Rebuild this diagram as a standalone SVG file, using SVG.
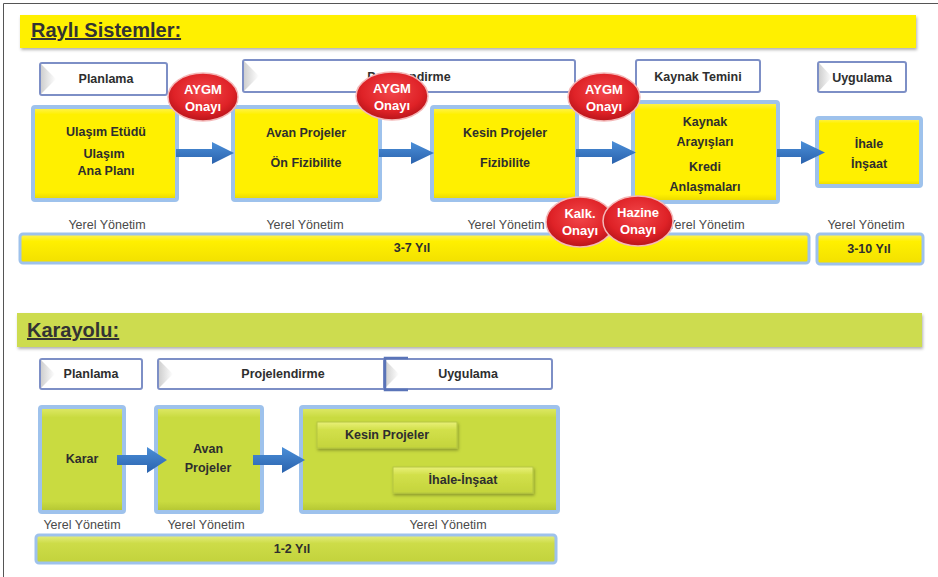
<svg xmlns="http://www.w3.org/2000/svg" width="938" height="577" viewBox="0 0 938 577">
  <defs>
    <style>
      .t { font-family: "Liberation Sans", Arial, sans-serif; font-weight: bold; font-size: 12.5px; fill: #2e2e2e; text-anchor: middle; }
      .title { font-family: "Liberation Sans", Arial, sans-serif; font-weight: bold; font-size: 20px; fill: #333; text-decoration: underline; }
      .yy { font-family: "Liberation Sans", Arial, sans-serif; font-size: 12.5px; fill: #4a4a4a; text-anchor: middle; }
      .w { font-family: "Liberation Sans", Arial, sans-serif; font-weight: bold; font-size: 13px; fill: #fff; text-anchor: middle; }
      .phase { fill: #ffffff; stroke: #7d8fc6; stroke-width: 2; }
      .notch { fill: url(#notchFill); }
      .ybox { fill: url(#yFill); stroke: #9ec2ec; stroke-width: 4; }
      .gbox { fill: url(#gFill); stroke: #9ec2ec; stroke-width: 4; }
      .ginner { fill: url(#gInner); stroke: #b5c640; stroke-width: 1; filter: url(#sh); }
      .ybar { fill: url(#yBar); stroke: #9ec2ec; stroke-width: 3; }
      .gbar { fill: url(#gBar); stroke: #9ec2ec; stroke-width: 3; }
      .seal { fill: url(#redFill); stroke: #f4b8b8; stroke-width: 1.5; }
      .arrow { fill: url(#blueFill); }
    </style>
    <linearGradient id="notchFill" x1="0" y1="0" x2="1" y2="0">
      <stop offset="0" stop-color="#cfcfcf"/>
      <stop offset="1" stop-color="#ffffff"/>
    </linearGradient>
    <linearGradient id="yFill" x1="0" y1="0" x2="0" y2="1">
      <stop offset="0" stop-color="#fff45a"/>
      <stop offset="0.08" stop-color="#fff000"/>
      <stop offset="0.92" stop-color="#fff000"/>
      <stop offset="1" stop-color="#e6d400"/>
    </linearGradient>
    <linearGradient id="yBar" x1="0" y1="0" x2="0" y2="1">
      <stop offset="0" stop-color="#fff35c"/>
      <stop offset="0.25" stop-color="#fff000"/>
      <stop offset="1" stop-color="#f2e000"/>
    </linearGradient>
    <linearGradient id="gFill" x1="0" y1="0" x2="0" y2="1">
      <stop offset="0" stop-color="#e0ea6a"/>
      <stop offset="0.1" stop-color="#c9db40"/>
      <stop offset="0.9" stop-color="#c9db40"/>
      <stop offset="1" stop-color="#b2c432"/>
    </linearGradient>
    <linearGradient id="gInner" x1="0" y1="0" x2="0" y2="1">
      <stop offset="0" stop-color="#e9f07a"/>
      <stop offset="0.3" stop-color="#d2e04a"/>
      <stop offset="1" stop-color="#c4d43c"/>
    </linearGradient>
    <linearGradient id="gBar" x1="0" y1="0" x2="0" y2="1">
      <stop offset="0" stop-color="#e6ee80"/>
      <stop offset="0.3" stop-color="#cddc48"/>
      <stop offset="1" stop-color="#c2d23c"/>
    </linearGradient>
    <radialGradient id="redFill" cx="0.5" cy="0.4" r="0.6">
      <stop offset="0" stop-color="#f2474a"/>
      <stop offset="0.7" stop-color="#df2227"/>
      <stop offset="1" stop-color="#b8141a"/>
    </radialGradient>
    <linearGradient id="blueFill" x1="0" y1="0" x2="0" y2="1">
      <stop offset="0" stop-color="#4b8fd8"/>
      <stop offset="1" stop-color="#2a62ad"/>
    </linearGradient>
    <filter id="sh" x="-10%" y="-20%" width="130%" height="160%">
      <feDropShadow dx="1" dy="2" stdDeviation="1.5" flood-color="#000" flood-opacity="0.3"/>
    </filter>
  </defs>

  <rect width="938" height="577" fill="#ffffff"/>
  <!-- frame -->
  <path d="M3.5 577 V3.5 H938" fill="none" stroke="#555" stroke-width="1"/>

  <!-- ===== Rail systems section ===== -->
  <g id="rail-banner">
    <rect x="20" y="15" width="896" height="33" fill="#fff000" filter="url(#sh)"/>
    <text class="title" x="31" y="37">Raylı Sistemler:</text>
  </g>

  <g id="rail-phase-planlama">
    <rect class="phase" x="40" y="63" width="127" height="32" rx="2"/>
    <polygon class="notch" points="41,64 56,79 41,94"/>
    <text class="t" x="106" y="83">Planlama</text>
  </g>
  <g id="rail-phase-projelendirme">
    <rect class="phase" x="243" y="60" width="332" height="32" rx="2"/>
    <polygon class="notch" points="244,61 259,76 244,91"/>
    <text class="t" x="409" y="81">Projelendirme</text>
  </g>
  <g id="rail-phase-kaynak">
    <rect class="phase" x="636" y="60" width="124" height="32" rx="2"/>
    <text class="t" x="698" y="81">Kaynak Temini</text>
  </g>
  <g id="rail-phase-uygulama">
    <rect class="phase" x="818" y="62" width="88" height="30" rx="2"/>
    <polygon class="notch" points="819,63 832,77 819,91"/>
    <text class="t" x="862" y="82">Uygulama</text>
  </g>

  <g id="rail-etut">
    <rect class="ybox" x="33" y="107" width="144" height="93" rx="2"/>
    <text class="t" x="106" y="136">Ulaşım  Etüdü</text>
    <text class="t" x="104" y="158">Ulaşım</text>
    <text class="t" x="106" y="175">Ana Planı</text>
  </g>
  <g id="rail-avan">
    <rect class="ybox" x="233" y="107" width="147" height="93" rx="2"/>
    <text class="t" x="306" y="137">Avan Projeler</text>
    <text class="t" x="306" y="167">Ön Fizibilite</text>
  </g>
  <g id="rail-kesin">
    <rect class="ybox" x="432" y="107" width="145" height="93" rx="2"/>
    <text class="t" x="505" y="137">Kesin Projeler</text>
    <text class="t" x="505" y="167">Fizibilite</text>
  </g>
  <g id="rail-kaynak">
    <rect class="ybox" x="633" y="102" width="145" height="100" rx="2"/>
    <text class="t" x="705" y="126">Kaynak</text>
    <text class="t" x="705" y="146">Arayışları</text>
    <text class="t" x="705" y="171">Kredi</text>
    <text class="t" x="705" y="191">Anlaşmaları</text>
  </g>
  <g id="rail-ihale">
    <rect class="ybox" x="817" y="118" width="104" height="68" rx="2"/>
    <text class="t" x="869" y="148">İhale</text>
    <text class="t" x="869" y="168">İnşaat</text>
  </g>

  <g id="rail-connectors">
    <polygon class="arrow" points="176,149 212,149 212,142 234,153 212,164 212,157 176,157"/>
    <polygon class="arrow" points="379,149 411,149 411,142 434,153 411,164 411,157 379,157"/>
    <polygon class="arrow" points="576,149 612,149 612,141 636,152.5 612,164 612,157 576,157"/>
    <polygon class="arrow" points="777,149 801,149 801,141 825,152.5 801,164 801,157 777,157"/>
  </g>

  <g id="rail-owners">
    <text class="yy" x="107" y="229">Yerel Yönetim</text>
    <text class="yy" x="305" y="229">Yerel Yönetim</text>
    <text class="yy" x="506" y="229">Yerel Yönetim</text>
    <text class="yy" x="706" y="229">Yerel Yönetim</text>
    <text class="yy" x="866" y="229">Yerel Yönetim</text>
  </g>

  <g id="rail-duration-3-7">
    <rect class="ybar" x="20" y="234" width="789" height="29" rx="3"/>
    <text class="t" x="412" y="252">3-7 Yıl</text>
  </g>
  <g id="rail-duration-3-10">
    <rect class="ybar" x="817" y="234" width="106" height="30" rx="3"/>
    <text class="t" x="869" y="253">3-10 Yıl</text>
  </g>

  <g id="approval-aygm-1">
    <ellipse class="seal" cx="203" cy="97" rx="35" ry="24"/>
    <text class="w" x="203" y="94">AYGM</text>
    <text class="w" x="203" y="111">Onayı</text>
  </g>
  <g id="approval-aygm-2">
    <ellipse class="seal" cx="392" cy="96" rx="36" ry="24"/>
    <text class="w" x="392" y="93">AYGM</text>
    <text class="w" x="392" y="110">Onayı</text>
  </g>
  <g id="approval-aygm-3">
    <ellipse class="seal" cx="604" cy="97" rx="36" ry="24"/>
    <text class="w" x="604" y="94">AYGM</text>
    <text class="w" x="604" y="111">Onayı</text>
  </g>
  <g id="approval-kalk">
    <ellipse class="seal" cx="580" cy="222" rx="34" ry="25"/>
    <text class="w" x="580" y="218">Kalk.</text>
    <text class="w" x="580" y="235">Onayı</text>
  </g>
  <g id="approval-hazine">
    <ellipse class="seal" cx="638" cy="221" rx="35" ry="25"/>
    <text class="w" x="638" y="217">Hazine</text>
    <text class="w" x="638" y="234">Onayı</text>
  </g>

  <!-- ===== Highway section ===== -->
  <g id="road-banner">
    <rect x="17" y="313" width="905" height="34" fill="#cddc50" filter="url(#sh)"/>
    <text class="title" x="27" y="337">Karayolu:</text>
  </g>

  <g id="road-phase-planlama">
    <rect class="phase" x="40" y="359" width="102" height="30" rx="2"/>
    <polygon class="notch" points="41,360 55,374 41,388"/>
    <text class="t" x="91" y="378">Planlama</text>
  </g>
  <g id="road-phase-projelendirme">
    <rect class="phase" x="158" y="359" width="230" height="30" rx="2"/>
    <polygon class="notch" points="159,360 173,374 159,388"/>
    <text class="t" x="283" y="378">Projelendirme</text>
  </g>
  <g id="road-phase-uygulama">
    <rect class="phase" x="384" y="359" width="168" height="30" rx="2"/>
    <polygon class="notch" points="385,360 399,374 385,388"/>
    <path d="M408 358 H385 V390 H408" fill="none" stroke="#5a74b8" stroke-width="2.5"/>
    <text class="t" x="468" y="378">Uygulama</text>
  </g>

  <g id="road-karar">
    <rect class="gbox" x="40" y="407" width="84" height="105" rx="2"/>
    <text class="t" x="82" y="463">Karar</text>
  </g>
  <g id="road-avan">
    <rect class="gbox" x="156" y="407" width="106" height="105" rx="2"/>
    <text class="t" x="208" y="453">Avan</text>
    <text class="t" x="208" y="472">Projeler</text>
  </g>
  <g id="road-uygulama-box">
    <rect class="gbox" x="301" y="407" width="257" height="105" rx="2"/>
    <rect class="ginner" x="317" y="422" width="140" height="26"/>
    <text class="t" x="387" y="439">Kesin Projeler</text>
    <rect class="ginner" x="393" y="467" width="140" height="26"/>
    <text class="t" x="463" y="484">İhale-İnşaat</text>
  </g>

  <g id="road-connectors">
    <polygon class="arrow" points="117,455 147,455 147,447 167,460 147,473 147,465 117,465"/>
    <polygon class="arrow" points="253,455 282,455 282,447 305,460 282,473 282,465 253,465"/>
  </g>

  <g id="road-owners">
    <text class="yy" x="82" y="529">Yerel Yönetim</text>
    <text class="yy" x="206" y="529">Yerel Yönetim</text>
    <text class="yy" x="448" y="529">Yerel Yönetim</text>
  </g>

  <g id="road-duration">
    <rect class="gbar" x="36" y="535" width="520" height="28" rx="3"/>
    <text class="t" x="292" y="553">1-2 Yıl</text>
  </g>
</svg>
